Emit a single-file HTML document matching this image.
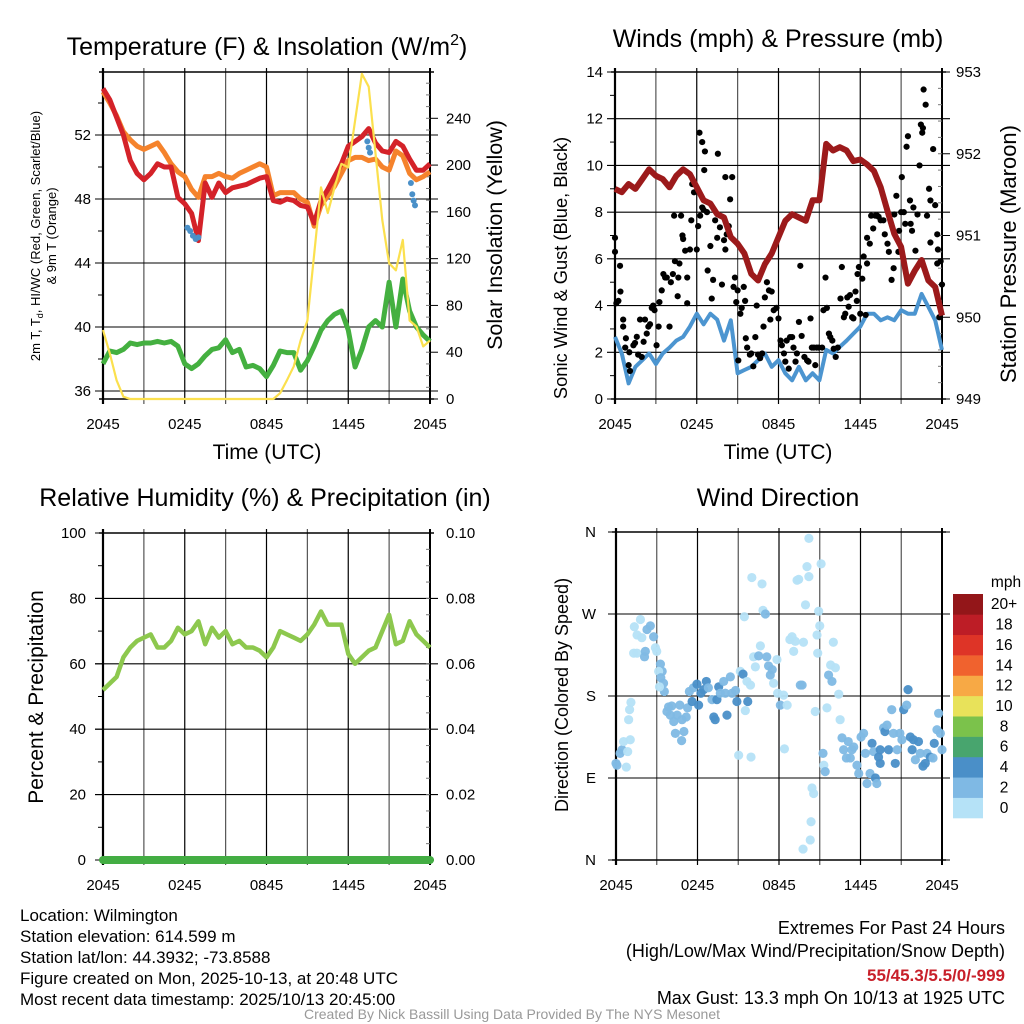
<!DOCTYPE html>
<html><head><meta charset="utf-8"><style>
html,body{margin:0;padding:0;background:#fff;}
svg{display:block;font-family:"Liberation Sans",Arial,sans-serif;}
</style></head><body>
<svg id="fig" width="1024" height="1024" viewBox="0 0 1024 1024" xmlns="http://www.w3.org/2000/svg">
<rect width="1024" height="1024" fill="#fff"/>
<g id="layer"></g>
<g font-size="17" fill="#000">
<text x="20" y="921">Location: Wilmington</text>
<text x="20" y="942">Station elevation: 614.599 m</text>
<text x="20" y="963">Station lat/lon: 44.3932; -73.8588</text>
<text x="20" y="984">Figure created on Mon, 2025-10-13, at 20:48 UTC</text>
<text x="20" y="1005">Most recent data timestamp: 2025/10/13 20:45:00</text>
</g>
<g font-size="18" text-anchor="end">
<text x="1005" y="934">Extremes For Past 24 Hours</text>
<text x="1005" y="957">(High/Low/Max Wind/Precipitation/Snow Depth)</text>
<text x="1005" y="981" fill="#c8202a" font-weight="bold" font-size="17">55/45.3/5.5/0/-999</text>
<text x="1005" y="1004">Max Gust: 13.3 mph On 10/13 at 1925 UTC</text>
</g>
<text x="512" y="1019" font-size="14" fill="#999" text-anchor="middle">Created By Nick Bassill Using Data Provided By The NYS Mesonet</text>
</svg>
<script>
// ===== data =====
const hours = [0,0.5,1,1.5,2,2.5,3,3.5,4,4.5,5,5.5,6,6.5,7,7.5,8,8.5,9,9.5,10,10.5,11,11.5,12,12.5,13,13.5,14,14.5,15,15.5,16,16.5,17,17.5,18,18.5,19,19.5,20,20.5,21,21.5,22,22.5,23,23.5,24];
const tempRed = [54.9,54.2,53.1,52.0,50.4,49.6,49.2,49.6,50.2,50.0,50.0,48.1,47.7,47.1,45.4,49.0,48.1,49.0,48.4,48.7,48.8,48.9,49.1,49.3,49.4,47.9,47.8,48.0,47.9,47.6,47.5,46.5,47.9,48.6,49.4,50.2,51.3,51.6,51.9,52.4,51.5,51.0,50.9,51.6,51.3,50.5,49.8,49.8,50.2];
const tempOrange = [54.7,54.0,53.2,52.2,51.7,51.3,51.1,51.3,51.5,50.9,50.2,49.7,49.4,48.6,48.1,49.4,49.4,49.6,49.4,49.3,49.6,49.8,50.0,50.2,50.0,48.2,48.4,48.4,48.4,48.0,47.8,46.3,47.6,48.2,48.8,49.6,50.4,50.6,50.6,50.4,50.5,50.0,49.8,51.0,50.7,49.6,49.2,49.4,49.7];
const dewGreen = [37.7,38.5,38.4,38.6,39.0,38.9,39.0,39.0,39.1,39.0,39.1,38.8,37.7,37.4,37.7,38.2,38.6,38.7,39.2,38.4,38.6,37.5,37.6,37.4,36.9,37.6,38.5,38.4,38.4,37.3,37.9,38.8,39.8,40.4,40.8,41.0,39.8,37.5,38.6,40.0,40.4,40.0,42.8,40.0,43.0,41.0,40.0,39.5,39.1];
const insolation = [59,39,16,2,0,0,0,0,0,0,0,0,0,0,0,0,0,0,0,0,0,0,0,0,0,0,5,16,28,50,67,124,181,159,181,201,198,238,278,267,210,153,116,110,136,67,62,45,50];
const hiwcHours = [6.2,6.4,6.6,6.8,7.0,19.4,19.5,19.6,22.6,22.7,22.8,22.9];
const hiwcVals = [46.2,46.0,45.7,45.5,45.6,51.6,51.2,50.9,49.0,48.3,47.9,47.6];
const pressure = [951.57,951.53,951.63,951.57,951.69,951.81,951.73,951.69,951.59,951.73,951.81,951.75,951.59,951.43,951.39,951.26,951.22,950.98,950.90,950.78,950.53,950.45,950.65,950.78,950.98,951.18,951.26,951.22,951.18,951.43,951.43,952.12,952.04,952.08,952.04,951.91,951.93,951.87,951.79,951.59,951.30,951.02,950.86,950.41,950.57,950.70,950.45,950.37,950.02];
const windSpeed = [2.66,1.95,0.67,1.38,1.66,1.95,1.5,1.95,2.2,2.5,2.66,3.1,3.65,3.2,3.65,3.4,2.5,3.37,1.1,1.24,1.38,1.66,1.95,1.38,1.66,1.1,0.8,1.38,0.8,1.1,0.8,2.1,1.95,2.23,2.5,2.8,3.1,3.65,3.65,3.37,3.5,3.37,3.8,3.65,3.65,4.5,3.94,3.37,2.1];
const gustHours = [0,0,0.37,0.1,0.4,0.25,0.6,0.6,0.8,0.75,1.05,1.0,1.1,1.35,1.47,1.6,1.7,1.84,1.96,2.1,2.2,2.33,2.45,2.57,2.7,2.8,2.9,3.05,3.2,3.26,3.43,3.55,3.68,3.8,4.0,4.1,4.25,4.34,4.4,4.6,4.65,4.73,4.85,4.95,5.0,5.15,5.3,5.3,5.5,5.6,5.67,5.8,6.0,6.1,6.25,6.4,6.5,6.2,6.4,6.6,6.55,6.75,6.8,7.0,7.1,7.2,7.35,7.5,7.55,7.7,7.85,8.0,8.1,8.2,8.35,8.45,8.1,8.6,8.7,8.8,8.9,9.0,9.05,9.2,9.3,9.45,9.55,9.6,9.7,9.9,10.0,10.15,10.3,10.4,10.5,10.65,10.8,10.9,11.0,11.15,11.3,11.4,11.5,11.65,11.85,12.0,12.15,12.25,12.4,12.5,12.6,12.75,12.85,13.0,13.1,13.25,13.35,13.5,13.6,13.7,13.9,14.1,14.2,14.35,14.45,14.6,14.7,14.8,14.95,15.2,15.3,15.45,15.55,15.7,15.8,15.95,16.05,16.2,16.35,16.55,16.65,16.8,16.9,17.05,17.15,17.25,17.4,17.5,17.65,17.75,17.8,17.9,18.0,18.15,18.25,18.4,18.5,18.5,18.7,18.8,18.95,19.1,19.25,19.35,19.5,19.7,19.8,20.0,20.1,20.3,20.45,20.5,20.65,20.8,20.85,21.0,21.05,21.2,21.3,21.4,21.5,21.65,21.7,21.8,21.9,22.05,22.2,22.35,22.45,22.55,22.6,22.65,22.8,22.9,23.05,23.15,23.15,23.35,23.5,23.65,23.7,23.8,23.9,24.0,23.65];
const gustVals = [6.3,6.9,5.7,4.1,4.6,4.2,3.4,3.1,2.6,2.2,2.0,1.45,1.2,2.3,2.4,2.66,1.9,3.4,1.8,2.45,3.4,2.8,3.1,3.2,3.9,4.0,3.8,2.3,3.1,4.15,4.65,5.35,5.2,5.2,3.1,5.0,5.35,7.85,5.9,4.4,5.2,5.8,7.85,7.0,6.85,6.35,5.2,4.1,6.4,7.65,9.2,8.85,6.4,7.4,7.85,8.2,8.1,11.4,11.0,10.6,9.8,8.0,5.5,6.55,4.3,5.1,7.65,6.9,10.5,7.35,4.9,6.8,6.4,7.05,7.4,8.55,9.5,9.5,4.8,5.2,4.15,4.65,1.65,3.65,3.9,4.8,4.2,2.6,2.2,1.9,1.95,1.4,2.65,4.0,1.9,1.75,1.95,3.1,4.35,5.0,4.65,3.4,4.6,3.8,3.9,3.45,2.5,2.3,1.95,1.6,2.5,1.3,2.65,2.65,2.2,1.6,1.95,3.3,5.7,2.7,1.8,1.65,1.6,3.45,2.2,2.2,1.45,2.2,2.2,2.2,3.8,5.2,3.9,2.8,2.65,2.5,2.15,1.8,2.2,4.3,5.65,3.5,3.65,4.35,3.95,4.45,3.5,3.45,4.6,4.2,5.35,5.65,3.65,5.15,6.1,3.6,5.8,6.9,6.65,7.85,7.3,7.85,7.85,7.8,7.65,7.65,7.05,6.65,6.3,5.1,5.6,7.9,8.7,6.3,7.2,8.0,9.5,8.0,7.5,10.8,11.25,8.5,7.5,7.2,8.2,6.35,7.9,10.0,11.75,11.4,11.6,13.25,12.6,7.85,9.0,8.5,6.7,10.7,8.3,7.05,6.4,3.5,5.9,4.9,5.8];
const rhHours = [0,1,1.5,2,2.5,3,3.5,4,4.5,5,5.5,6,6.5,7,7.5,8,8.5,9,9.5,10,10.5,11,11.5,12,12.5,13,13.5,14,14.5,15,15.5,16,16.5,17,17.5,18,18.5,19,19.5,20,20.5,21,21.5,22,22.5,23,23.5,24];
const rhVals = [52,56,62,65,67,68,69,65,65,67,71,69,70,73,66,71,68,70,66,67,65,65,64,62,65,70,69,68,67,69,72,76,72,72,72,63,60,62,64,65,70,75,66,67,73,69,67,65];
const precipVals = [0,0,0,0,0,0,0,0,0,0,0,0,0,0,0,0,0,0,0,0,0,0,0,0,0];
const dirHours = [0,0.07,0.3,0.45,0.56,0.76,0.86,0.93,1.0,1.1,1.05,1.35,1.55,1.8,1.9,1.3,1.55,2.16,2.1,2.28,2.53,2.77,2.9,3.0,3.27,3.4,3.14,3.3,3.5,3.56,3.2,3.75,3.87,4.0,4.1,4.25,4.37,4.5,4.7,4.86,5.0,4.83,5.17,5.27,5.4,5.6,5.7,5.96,6.08,6.25,6.45,6.65,6.8,7.07,7.2,7.3,7.43,7.56,7.68,7.93,8.05,8.17,8.42,8.54,8.8,8.9,9.03,9.15,9.35,9.45,9.52,9.64,9.7,9.9,9.94,10.0,10.13,10.26,10.5,10.63,10.75,10.82,11.0,11.1,11.23,11.36,11.5,11.6,11.85,11.9,12.1,12.34,12.4,12.6,12.8,12.96,13.08,13.2,13.33,13.45,13.57,13.7,13.8,13.95,14.06,14.2,14.2,13.77,14.3,14.36,14.43,14.55,14.67,14.8,14.85,14.92,15.0,15.1,15.24,15.3,15.4,15.53,15.65,15.8,15.9,16.0,16.15,16.4,16.5,16.64,16.76,16.96,17.1,17.25,17.37,17.5,17.74,17.87,18.04,18.23,18.36,18.48,18.7,18.85,18.97,19.1,19.2,19.33,19.45,19.45,19.7,19.8,19.95,20.07,20.3,20.43,20.56,20.7,20.9,21.05,21.18,21.4,21.5,21.67,21.8,21.9,22.04,22.27,22.4,22.6,22.77,22.9,23.14,23.34,23.43,23.63,23.75,23.88,24.0];
const dirDeg = [106,104,117,121,130,102,119,154,165,173,132,256,247,264,244,227,227,229,223,253,257,245,233,229,215,207,207,200,194,185,190,163,168,159,169,152,139,159,170,154,141,131,157,167,185,174,189,193,170,183,187,196,189,176,157,154,176,190,183,196,183,159,201,183,186,174,115,207,204,267,164,196,174,192,113,310,223,212,224,235,303,274,270,223,213,203,209,194,220,183,170,181,122,170,242,245,229,240,307,308,192,192,239,280,322,311,353,12,22,42,79,73,163,247,227,273,257,325,117,104,97,167,203,214,196,239,211,182,154,134,121,112,130,112,121,124,104,95,135,139,117,84,95,128,119,90,84,113,121,106,145,141,148,121,165,139,106,121,139,132,165,170,187,135,121,132,110,130,117,103,106,117,113,112,128,143,161,139,121];
const dirSpeed = [3,3,3,3,1,1,1,1,1,1,1,1,1,1,1,1,1,3,3,3,3,3,1,1,3,3,1,3,3,3,1,3,3,3,3,3,3,3,3,3,3,3,3,3,3,4.5,3,4.5,4.5,4.5,4.5,4.5,3,3,4.5,4.5,4.5,4.5,3,3,3,4.5,3,3,3,4.5,1,1,4.5,1,1,1,4.5,1,1,1,1,1,3,1,1,1,3,3,3,3,3,1,1,1,3,1,1,1,1,1,1,1,1,1,3,3,1,1,1,1,1,1,1,1,1,1,1,1,1,1,1,1,3,1,3,1,3,1,3,1,1,1,1,3,3,3,3,3,3,3,3,3,3,3,3,3,3,4.5,3,4.5,3,4.5,4.5,4.5,3,4.5,3,4.5,3,3,4.5,3,3,3,4.5,3,4.5,4.5,4.5,4.5,3,4.5,3,4.5,4.5,3,4.5,3,4.5,3,3,3,3];
const tempTicks = [36,40,44,48,52];
const insolTicks = [0,40,80,120,160,200,240];
const windTicks = [0,2,4,6,8,10,12,14];
const presTicks = [949,950,951,952,953];
const rhTicks = [0,20,40,60,80,100];
const precipTicks = ["0.00","0.02","0.04","0.06","0.08","0.10"];
const dirTickLabels = ["N","E","S","W","N"];
const timeTickLabels = ["2045","0245","0845","1445","2045"];
const cbLabels = ["0","2","4","6","8","10","12","14","16","18","20+"];
const cbColors = ["#b5e2f7","#7fb9e4","#4a8fc8","#48a56e","#7bc24b","#e8e25a","#f7a945","#f0622e","#de3427","#bd1d26","#931619"];

// ===== helpers =====
const NS="http://www.w3.org/2000/svg";
const layer=document.getElementById('layer');
function mk(tag,attrs,parent,txt){const e=document.createElementNS(NS,tag);for(const k in attrs)e.setAttribute(k,attrs[k]);if(txt!==undefined)e.textContent=txt;(parent||layer).appendChild(e);return e;}
function lin(d0,d1,r0,r1){return v=>r0+(v-d0)/(d1-d0)*(r1-r0);}
function pathD(xs,ys,fx,fy){return xs.map((x,i)=>(i?'L':'M')+fx(x).toFixed(1)+','+fy(ys[i]).toFixed(1)).join('');}

function panel(name,x0,x1,y0,y1,hLines){
  const g=mk('g',{});
  
  
  const fx=lin(0,24,x0,x1);
  for(let h=0;h<=24;h+=3){
    const l=mk('line',{x1:fx(h),x2:fx(h),y1:y0-4,y2:y1+5,stroke:(h%6===0?'#000':'#555'),'stroke-width':1.2},g);
    
    
  }
  hLines.forEach(y=>{const l=mk('line',{x1:x0-8,x2:x1+8,y1:y,y2:y,stroke:'#000','stroke-width':1.1},g);
    
    });
  mk('line',{x1:x0-4,x2:x1+4,y1:y0,y2:y0,stroke:'#000','stroke-width':1.5},g);
  mk('line',{x1:x0-4,x2:x1+4,y1:y1,y2:y1,stroke:'#000','stroke-width':1.5},g);
  mk('line',{x1:x0,x2:x0,y1:y0-4,y2:y1+5,stroke:'#000','stroke-width':2.2},g);
  mk('line',{x1:x1,x2:x1,y1:y0-4,y2:y1+5,stroke:'#000','stroke-width':2},g);
  const tl=mk('g',{'font-size':15,'text-anchor':'middle'},g);
  
  
  timeTickLabels.forEach((t,i)=>{mk('text',{x:fx(i*6),y:y1+30},tl,t);});
  return {g,fx};
}
function txt(x,y,s,size,attrs,name){const t=mk('text',Object.assign({x:x,y:y,'font-size':size,'text-anchor':'middle'},attrs||{}),layer,s);
  
  return t;}

// ===== Panel 1: temperature =====
(function(){
  const x0=103,x1=430,y0=72,y1=399;
  const fy=lin(36,52,391,135), fi=lin(0,240,399,118.3);
  const P=panel('temperature-panel',x0,x1,y0,y1,tempTicks.map(fy));
  const g=P.g,fx=P.fx;
  tempTicks.forEach(v=>mk('text',{x:x0-12,y:fy(v)+5,'font-size':15,'text-anchor':'end'},g,v));
  for(let v=38;v<=54;v+=4) mk('line',{x1:x0-5,x2:x0,y1:fy(v),y2:fy(v),stroke:'#000'},g);
  insolTicks.forEach(v=>{mk('text',{x:x1+16,y:fi(v)+5,'font-size':15},g,v);mk('line',{x1:x1,x2:x1+8,y1:fi(v),y2:fi(v),stroke:'#000'},g);});
  for(let v=10;v<280;v+=10) mk('line',{x1:x1-4,x2:x1,y1:fi(v),y2:fi(v),stroke:'#777'},g);
  const o=mk('path',{d:pathD(hours,tempOrange,fx,fy),fill:'none',stroke:'#f5832c','stroke-width':5,'stroke-linejoin':'round'},g);
  
  
  const r=mk('path',{d:pathD(hours,tempRed,fx,fy),fill:'none',stroke:'#d42229','stroke-width':5,'stroke-linejoin':'round'},g);
  
  
  hiwcHours.forEach((h,i)=>{const c=mk('circle',{cx:fx(h),cy:fy(hiwcVals[i]),r:3,fill:'#4a90c8'},g);
    
    });
  const gr=mk('path',{d:pathD(hours,dewGreen,fx,fy),fill:'none',stroke:'#44b040','stroke-width':5,'stroke-linejoin':'round'},g);
  
  
  const ins=mk('path',{d:pathD(hours,insolation.map(v=>Math.min(v,280)),fx,fi),fill:'none',stroke:'#fbe04e','stroke-width':2.2,'stroke-linejoin':'round'},g);
  
  
  txt(267,55,'',25,{},'temperature-title').innerHTML='Temperature (F) &amp; Insolation (W/m<tspan dy="-10" font-size="16">2</tspan><tspan dy="10">)</tspan>';
  txt(267,459,'Time (UTC)',21,{},'temperature-x-title');
  const yt=txt(0,0,'',13,{transform:'translate(40,236) rotate(-90)'},'temperature-y-title');
  yt.innerHTML='<tspan x="0" dy="0">2m T, T<tspan font-size="9" dy="3">d</tspan><tspan dy="-3">, HI/WC (Red, Green, Scarlet/Blue)</tspan></tspan><tspan x="0" dy="16">&amp; 9m T (Orange)</tspan>';
  txt(0,0,'Solar Insolation (Yellow)',21.5,{transform:'translate(502,235) rotate(-90)'},'insolation-y-title');
})();

// ===== Panel 2: winds =====
(function(){
  const x0=615,x1=942,y0=72,y1=399;
  const fy=lin(0,14,399,72), fp=lin(949,953,399,72);
  const P=panel('winds-panel',x0,x1,y0,y1,windTicks.map(fy));
  const g=P.g,fx=P.fx;
  windTicks.forEach(v=>mk('text',{x:x0-12,y:fy(v)+5,'font-size':15,'text-anchor':'end'},g,v));
  for(let v=1;v<14;v+=2) mk('line',{x1:x0-5,x2:x0,y1:fy(v),y2:fy(v),stroke:'#000'},g);
  presTicks.forEach(v=>{mk('text',{x:x1+14,y:fp(v)+5,'font-size':15},g,v);mk('line',{x1:x1,x2:x1+8,y1:fp(v),y2:fp(v),stroke:'#000'},g);});
  for(let v=949.2;v<953;v+=0.2) mk('line',{x1:x1-4,x2:x1,y1:fp(v),y2:fp(v),stroke:'#777'},g);
  const w=mk('path',{d:pathD(hours,windSpeed,fx,fy),fill:'none',stroke:'#4c95d0','stroke-width':4,'stroke-linejoin':'round'},g);
  
  
  gustHours.forEach((h,i)=>{const c=mk('circle',{cx:fx(h),cy:fy(gustVals[i]),r:3.1,fill:'#000'},g);
    
    });
  const p=mk('path',{d:pathD(hours,pressure,fx,fp),fill:'none',stroke:'#9c1a1b','stroke-width':6,'stroke-linejoin':'round'},g);
  
  
  txt(778,47,'Winds (mph) & Pressure (mb)',25,{},'winds-title');
  txt(778,459,'Time (UTC)',21,{},'winds-x-title');
  txt(0,0,'Sonic Wind & Gust (Blue, Black)',18.3,{transform:'translate(567,268) rotate(-90)'},'wind-y-title');
  txt(0,0,'Station Pressure (Maroon)',22,{transform:'translate(1016,254) rotate(-90)'},'pressure-y-title');
})();

// ===== Panel 3: RH =====
(function(){
  const x0=103,x1=430,y0=533,y1=860;
  const fy=lin(0,100,860,533), fpr=lin(0,0.1,860,533);
  const P=panel('humidity-panel',x0,x1,y0,y1,[20,40,60,80].map(fy));
  const g=P.g,fx=P.fx;
  rhTicks.forEach(v=>{mk('text',{x:x0-17,y:fy(v)+5,'font-size':15,'text-anchor':'end'},g,v);mk('line',{x1:x0-8,x2:x0,y1:fy(v),y2:fy(v),stroke:'#000'},g);});
  for(let v=10;v<100;v+=20) mk('line',{x1:x0-5,x2:x0,y1:fy(v),y2:fy(v),stroke:'#000'},g);
  precipTicks.forEach((v,i)=>{mk('text',{x:x1+16,y:fy(i*20)+5,'font-size':15},g,v);});
  for(let v=5;v<100;v+=5) mk('line',{x1:x1-4,x2:x1,y1:fy(v),y2:fy(v),stroke:'#777'},g);
  const rl=mk('path',{d:pathD(rhHours,rhVals,fx,fy),fill:'none',stroke:'#8dc84e','stroke-width':4.5,'stroke-linejoin':'round'},g);
  
  
  const ph=precipVals.map((v,i)=>i);
  const pl=mk('path',{d:pathD(ph,precipVals,fx,fpr),fill:'none',stroke:'#43ad43','stroke-width':8,'stroke-linecap':'round'},g);
  
  
  txt(265,506,'Relative Humidity (%) & Precipitation (in)',25,{},'humidity-title');
  txt(0,0,'Percent & Precipitation',21,{transform:'translate(43,697) rotate(-90)'},'humidity-y-title');
})();

// ===== Panel 4: wind direction =====
(function(){
  const x0=616,x1=942,y0=532,y1=860;
  const fy=lin(0,360,860,532);
  const P=panel('wind-direction-panel',x0,x1,y0,y1,[0,90,180,270,360].map(fy));
  const g=P.g,fx=P.fx;
  dirTickLabels.forEach((t,i)=>mk('text',{x:x0-20,y:fy(i*90)+5,'font-size':15,'text-anchor':'end'},g,t));
  function col(s){let b=Math.floor(s/2);if(b>10)b=10;return cbColors[b];}
  dirHours.forEach((h,i)=>{const c=mk('circle',{cx:fx(h),cy:fy(dirDeg[i]),r:4.6,fill:col(dirSpeed[i]),'fill-opacity':0.95},g);
    
    });
  txt(778,506,'Wind Direction',25,{},'wind-direction-title');
  txt(0,0,'Direction (Colored By Speed)',18,{transform:'translate(568,695) rotate(-90)'},'direction-y-title');
  const cb=mk('g',{});
  
  
  const h=(818-594)/11;
  cbColors.forEach((c,i)=>{mk('rect',{x:953,y:818-(i+1)*h,width:30,height:h+0.3,fill:c},cb);
    mk('text',{x:1004,y:818-(i+0.5)*h+5,'font-size':15.5,'text-anchor':'middle'},cb,cbLabels[i]);});
  mk('text',{x:1006,y:587,'font-size':15.5,'text-anchor':'middle'},cb,'mph');
})();
</script>
</body></html>
